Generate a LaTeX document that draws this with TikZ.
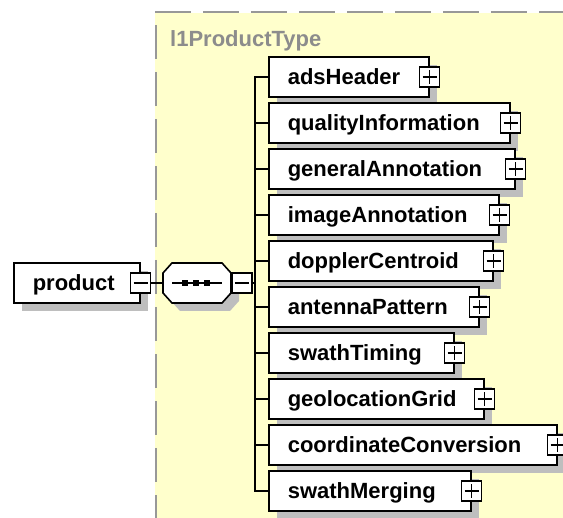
\documentclass[tikz,border=0pt]{standalone}
\usepackage{fontspec}
\setmainfont{Liberation Sans}
\usetikzlibrary{shadows}
\definecolor{typebg}{RGB}{255,255,204}
\definecolor{borderg}{RGB}{152,152,152}
\definecolor{labelg}{RGB}{140,140,140}
\definecolor{shadowg}{RGB}{190,190,190}
\begin{document}
\begin{tikzpicture}[x=1pt,y=-1pt,
  boxshadow/.style={drop shadow={shadow xshift=8pt,shadow yshift=-8pt,fill=shadowg,opacity=1}},
  elem/.style={draw=black, fill=white, line width=1.6pt, anchor=west,
    minimum height=40pt, inner xsep=19pt, inner ysep=0pt, align=left,
    text height=16pt, text depth=0pt,
    font=\bfseries\fontsize{22}{26}\selectfont, boxshadow},
  conn/.style={line width=1.6pt},
  plusbox/.style={draw=black, fill=white, line width=1.4pt, minimum size=20pt, inner sep=0pt,
    path picture={
      \draw[line width=1.4pt] (path picture bounding box.center) ++(-7pt,0) -- ++(14pt,0);
      \draw[line width=1.4pt] (path picture bounding box.center) ++(0,-7pt) -- ++(0,14pt);}},
  minusbox/.style={draw=black, fill=white, line width=1.4pt, minimum size=20pt, inner sep=0pt,
    path picture={
      \draw[line width=1.4pt] (path picture bounding box.center) ++(-7pt,0) -- ++(14pt,0);}},
  typelabel/.style={anchor=base west, inner sep=0pt, text=labelg,
    font=\bfseries\fontsize{22}{26}\selectfont},
  seqanchor/.style={minimum width=68pt, minimum height=40pt, inner sep=0pt}
]
\useasboundingbox (0,0) rectangle (563,518);

% complex type background
\fill[typebg] (155,13) rectangle (563,518);
\draw[borderg, line width=2.2pt, dash pattern=on 36pt off 12pt] (155,12) -- (563,12);
\draw[borderg, line width=2.2pt, dash pattern=on 34pt off 13pt, dash phase=34pt] (156,12) -- (156,518);
\node[typelabel] (typename) at (170,47) {l1ProductType};

% root element
\node[elem, text width=88pt] (product) at (13,283) {product};
\node[minusbox] (pm) at (product.east) {};

% sequence compositor
\node[seqanchor] (seq) at (197,283) {};
\filldraw[fill=white, draw=black, line width=1.6pt, boxshadow]
  (163,273) -- (172,263) -- (222,263) -- (231,273) -- (231,293) -- (222,303) -- (172,303) -- (163,293) -- cycle;
\draw[conn] (172,283) -- (222,283);
\foreach \xx in {185,196,207} \fill (\xx-3,280) rectangle (\xx+3,286);
\node[minusbox, anchor=west] (sm) at (seq.east) {};
\coordinate (bus) at (255,283);
\draw[conn] (pm.east) -- (seq.west);
\draw[conn] (sm.east) -- (bus);

% children
\foreach \n/\w [count=\i from 0, evaluate=\i as \yy using 77+46*\i] in
  {adsHeader/122, qualityInformation/203, generalAnnotation/208, imageAnnotation/192,
   dopplerCentroid/186, antennaPattern/172, swathTiming/147, geolocationGrid/177,
   coordinateConversion/250, swathMerging/164}
{
  \node[elem, text width=\w pt] (\n) at (268,\yy) {\n};
  \draw[conn] (\n.west) -| (bus);
  \node[plusbox] (\n-plus) at (\n.east) {};
}
\end{tikzpicture}
\end{document}
